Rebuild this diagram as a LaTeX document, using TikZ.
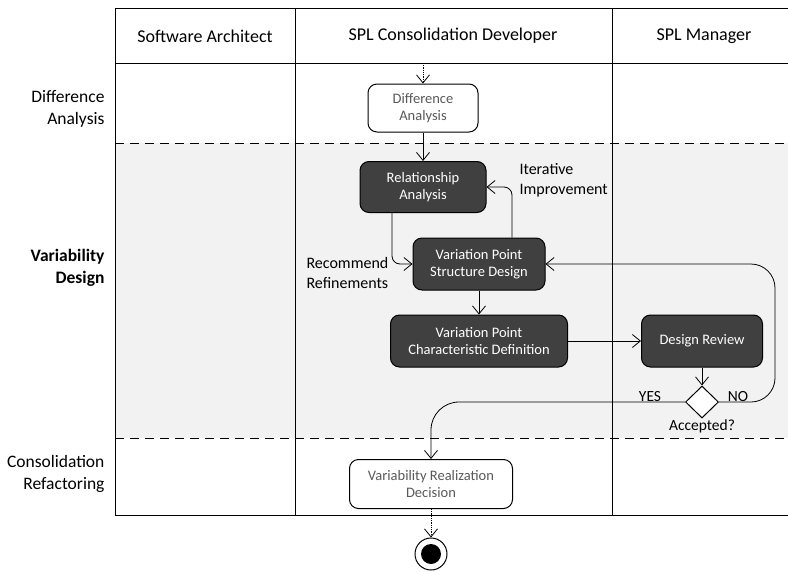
\documentclass[tikz,border=0pt]{standalone}
\usepackage{fontspec}
\setmainfont{Carlito}
\usetikzlibrary{shapes.geometric, arrows.meta, positioning}
\definecolor{darkgrey}{RGB}{64, 64, 64}
\definecolor{lanegrey}{RGB}{242, 242, 242}
\definecolor{textgrey}{RGB}{89, 89, 89}

\begin{document}
\begin{tikzpicture}[
  x=1pt, y=-1pt,
  act/.style = {
    draw=black, fill=darkgrey, text=white, rounded corners=9pt,
    line width=1pt, align=center, font=\fontsize{14.5}{17.5}\selectfont
  },
  wact/.style = { act, fill=white, text=textgrey },
  arr/.style = { -{Straight Barb[length=8pt, width=13pt]}, line width=0.8pt },
  darr/.style = { arr, densely dotted },
  lane/.style = { line width=1pt },
  sep/.style = { line width=1pt, dash pattern=on 9pt off 6pt },
  hdr/.style = { font=\fontsize{18}{21}\selectfont },
  phase/.style = { anchor=east, align=right, font=\fontsize{17.5}{21.5}\selectfont },
  lbl/.style = { align=left, font=\fontsize{16}{20}\selectfont }
]
\useasboundingbox (0,0) rectangle (788,571);

% swimlanes
\fill[lanegrey] (115,143) rectangle (788,438);
\draw[lane] (115,8) -- (788,8);
\draw[lane] (115,63) -- (788,63);
\draw[lane] (115,515) -- (788,515);
\draw[sep] (115,143) -- (788,143);
\draw[sep] (115,438) -- (788,438);
\foreach \x in {115,295,612}
  \draw[lane] (\x,8) -- (\x,515);

\node[hdr] (arch) at (205,36) {Software Architect};
\node[hdr] (dev)  at (453,36) {SPL Consolidation Developer};
\node[hdr] (mgr)  at (704,36) {SPL Manager};

\node[phase] (pdiff) at (108,109) {Difference\\Analysis};
\node[phase, font=\bfseries\fontsize{17.5}{21.5}\selectfont] (pvar) at (108,268) {Variability\\Design};
\node[phase] (pref)  at (108,474) {Consolidation\\Refactoring};

% activities
\coordinate (start) at (423,63);
\node[wact, minimum width=110pt, minimum height=48pt] (diff) at (423,108) {Difference\\Analysis};
\node[act, minimum width=126pt, minimum height=51pt] (rel) at (423,187) {Relationship\\Analysis};
\node[act, minimum width=132pt, minimum height=52pt] (vpsd) at (479,264) {Variation Point\\Structure Design};
\node[act, minimum width=177pt, minimum height=52pt] (vpcd) at (479,341) {Variation Point\\Characteristic Definition};
\node[act, minimum width=121pt, minimum height=52pt] (rev) at (702,341) {Design Review};
\node[diamond, draw, fill=white, line width=1pt, minimum width=33pt,
      minimum height=32pt, inner sep=0pt] (acc) at (702,402) {};
\node[wact, minimum width=163pt, minimum height=49pt] (vrd) at (431,484) {Variability Realization\\Decision};
\node[circle, draw, fill=white, line width=1pt, minimum size=32pt, inner sep=0pt] (end) at (431,554) {};
\fill (end) circle (10pt);

\node[lbl, anchor=west] (iter) at (516,180) {Iterative\\Improvement};
\node[lbl, anchor=west] (recm) at (303,273) {Recommend\\Refinements};
\node[lbl, anchor=south, font=\fontsize{15.5}{18}\selectfont] (yes) at (650,405) {YES};
\node[lbl, anchor=south, font=\fontsize{15.5}{18}\selectfont] (no) at (738,405) {NO};
\node[lbl, below=-2pt of acc, font=\fontsize{15.5}{18}\selectfont] (acclbl) {Accepted?};

% flows
\draw[darr] (start) -- (diff);
\draw[arr] (diff) -- (rel);
\draw[arr, rounded corners=8pt] ([xshift=-31pt]rel.south) |- (vpsd.west);
\draw[arr, rounded corners=8pt] ([xshift=33pt]vpsd.north) |- (rel.east);
\draw[arr] (vpsd) -- (vpcd);
\draw[arr] (vpcd) -- (rev);
\draw[arr] (rev) -- (acc);
\coordinate (noturn) at (775,402);
\draw[arr, rounded corners=24pt] (acc.east) -- (noturn) |- (vpsd.east);
\draw[arr, rounded corners=28pt] (acc.west) -| (vrd.north);
\draw[darr] (vrd) -- (end);

\end{tikzpicture}
\end{document}
